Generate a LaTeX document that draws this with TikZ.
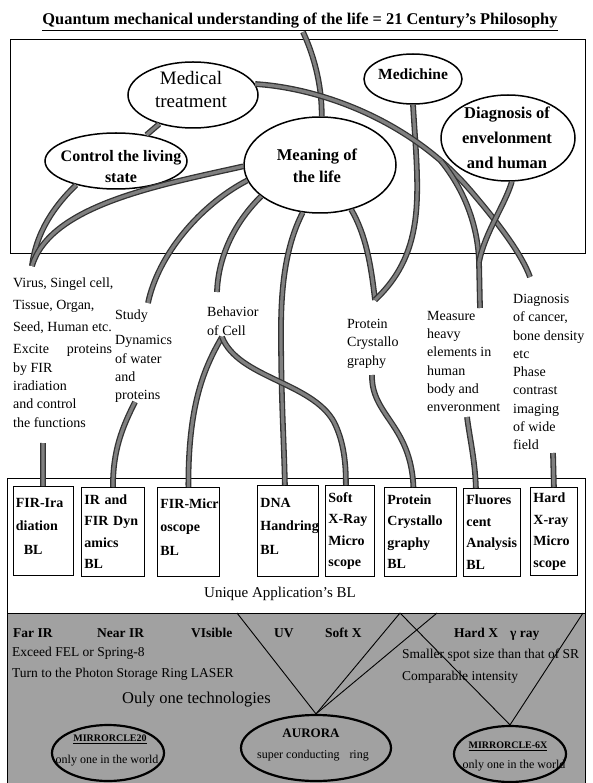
\documentclass[tikz,border=0pt]{standalone}
\usepackage{fontspec}
\setmainfont{Liberation Serif}
\usepackage{graphicx}
\usetikzlibrary{shapes.geometric}
\begin{document}
\begin{tikzpicture}[x=1pt,y=-1pt,
  pipe/.style={draw=black!80, line width=1.3pt, double=black!50, double distance=3.2pt},
  oval/.style={ellipse, draw, line width=1.5pt, inner sep=0pt},
  boval/.style={ellipse, draw, line width=2.2pt, inner sep=0pt},
  etext/.style={font=\bfseries\fontsize{16}{21}\selectfont, align=center, inner sep=0pt},
  mtext/.style={font=\fontsize{14}{18.3}\selectfont, align=left, anchor=north west, inner sep=0pt},
  blbox/.style={draw, line width=0.8pt, anchor=north west, align=left, inner xsep=3pt, inner ysep=0pt, font=\bfseries\fontsize{14}{21.5}\selectfont},
  blboxw/.style={blbox, font=\bfseries\fontsize{14}{23.5}\selectfont, text height=0pt},
  frame/.style={draw, line width=0.8pt},
  band/.style={font=\fontsize{13.5}{16}\selectfont, anchor=base west, inner sep=0pt},
  bandb/.style={band, font=\bfseries\fontsize{13.5}{16}\selectfont},
  thinline/.style={draw, line width=0.9pt},
  ptext/.style={inner sep=0pt}
]
\useasboundingbox (0,0) rectangle (592,783);

% frames and shaded band
\fill[black!37] (7,613) rectangle (585,783);
\draw[frame] (10,39) rectangle (585,253);
\draw[frame] (7,478) rectangle (585,783);
\draw[frame] (7,613) -- (585,613);

% title
\node[ptext] (title) at (300,22) {\resizebox{515pt}{!}{\bfseries\fontsize{14}{16}\selectfont\underline{Quantum mechanical understanding of the life = 21 Century's Philosophy}}};
\coordinate (tl) at (303,32);

% top ellipses
\node[oval, minimum width=130, minimum height=66] (med) at (193,95) {};
\node[ptext, align=center, font=\fontsize{19}{23}\selectfont] (medt) at (191,90) {Medical\\treatment};
\node[oval, minimum width=98, minimum height=50] (medi) at (413,79) {};
\node[etext, font=\bfseries\fontsize{15.5}{20}\selectfont] (medit) at (413,74) {Medichine};
\node[oval, minimum width=134, minimum height=86] (diag) at (508,138) {};
\node[etext, font=\bfseries\fontsize{16.5}{25}\selectfont] (diagt) at (507,138) {Diagnosis of\\envelonment\\and human};
\node[oval, minimum width=142, minimum height=56] (ctrl) at (116,161) {};
\node[etext] (ctrlt) at (121,167) {Control the living\\state};
\node[oval, minimum width=152, minimum height=96] (mean) at (320,165) {};
\node[etext, font=\bfseries\fontsize{16.5}{22}\selectfont] (meant) at (317,166) {Meaning of\\the life};

% middle texts
\node[mtext] (virt) at (13,278) {Virus, Singel cell,\\[3.7pt]Tissue, Organ,\\[3.7pt]Seed, Human etc.\\[3.7pt]Excite\hspace{18pt}proteins\\by FIR\\iradiation\\and control\\the functions};
\node[mtext] (stut) at (115,310) {Study\\[6.7pt]Dynamics\\of water\\and\\proteins};
\node[mtext] (beht) at (207,307) {Behavior\\of Cell};
\node[mtext] (prot) at (347,319) {Protein\\Crystallo\\graphy};
\node[mtext] (meat) at (427,311) {Measure\\heavy\\elements in\\human\\body and\\enveronment};
\node[mtext] (dgt) at (513,294) {Diagnosis\\of cancer,\\bone density\\etc\\Phase\\contrast\\imaging\\of wide\\field};

% beamline boxes
\node[blboxw, text width=54pt, minimum height=89pt] (b1) at (12.5,486) {FIR-Ira\\diation\\\hspace*{8pt}BL};
\node[blbox, text width=57pt, minimum height=89pt] (b2) at (81,487) {IR and\\FIR Dyn\\amics\\BL};
\node[blboxw, text width=56pt, minimum height=89pt] (b3) at (157,487) {\mbox{FIR-Micr}\\oscope\\BL};
\node[blboxw, text width=55pt, minimum height=91pt] (b4) at (257,485) {DNA\\\mbox{Handring}\\BL};
\node[blbox, text width=43pt, minimum height=91pt] (b5) at (325,485) {Soft\\X-Ray\\Micro\\scope};
\node[blbox, text width=66pt, minimum height=89pt] (b6) at (384,487) {Protein\\Crystallo\\graphy\\BL};
\node[blbox, text width=51pt, minimum height=88pt] (b7) at (463,488) {Fluores\\cent\\Analysis\\BL};
\node[blbox, text width=41pt, minimum height=88pt] (b8) at (530,487) {Hard\\X-ray\\Micro\\scope};
\node[ptext, font=\fontsize{15}{18}\selectfont] (uniq) at (280,594) {Unique Application's BL};

% free ends
\coordinate (vir) at (32,266);
\coordinate (stu) at (148,303);
\coordinate (bht) at (217,292);
\coordinate (vpt) at (375,300);
\coordinate (mjoin) at (479,262);
\coordinate (mea) at (480,308);
\coordinate (dgc) at (530,277);
\coordinate (mx) at (470,190);
\coordinate (brs) at (441,161);
\coordinate (virs) at (43,443);
\coordinate (irs) at (135,402);
\coordinate (beh) at (222,337);
\coordinate (prs) at (372,375);
\coordinate (mss) at (467,417);
\coordinate (hxs) at (553,453);

% upper connectors
\draw[pipe] (tl) .. controls (316,60) and (322,90) .. (mean.88);
\draw[pipe] (med) -- (ctrl);
\draw[pipe] (ctrl.211) .. controls (55,205) and (36,232) .. (vir);
\draw[pipe] (mean.181) .. controls (160,185) and (50,205) .. (vir);
\draw[pipe] (mean.192) .. controls (200,205) and (158,255) .. (stu);
\draw[pipe] (mean.208) .. controls (232,225) and (218,260) .. (bht);
\draw[pipe] (mean.250) .. controls (286,245) and (281,285) .. (281,330) .. controls (281,400) and (284,440) .. ([xshift=-3pt]b4.north);
\draw[pipe] (mean.305) .. controls (366,235) and (371,265) .. (vpt);
\draw[pipe] (medi.south) .. controls (418,190) and (428,250) .. (vpt);
\draw[pipe] (med.10) .. controls (320,88) and (410,120) .. (mx) .. controls (500,225) and (522,255) .. (dgc);
\draw[pipe] (brs) .. controls (466,192) and (478,228) .. (mjoin) -- (mea);
\draw[pipe] (diag.275) .. controls (505,205) and (485,232) .. (mjoin);

% lower connectors
\draw[pipe] (virs) -- (b1.north);
\draw[pipe] (irs) .. controls (122,428) and (113,450) .. (b2.north);
\draw[pipe] (beh) .. controls (204,368) and (188,405) .. (b3.north);
\draw[pipe] (beh) .. controls (238,378) and (312,382) .. (334,422) .. controls (343,440) and (346,460) .. ([xshift=-4pt]b5.north);
\draw[pipe] (prs) .. controls (371,415) and (411,425) .. ([xshift=-7pt]b6.north);
\draw[pipe] (mss) .. controls (470,440) and (475,460) .. ([xshift=-16pt]b7.north);
\draw[pipe] (hxs) -- (b8.north);

% light source band
\node[bandb] (farir) at (13,637) {Far IR};
\node[bandb] (nearir) at (97,637) {Near IR};
\node[bandb] (vis) at (191,637) {VIsible};
\node[bandb] (uv) at (274,637) {UV};
\node[bandb] (softx) at (325,637) {Soft X};
\node[bandb] (hardx) at (454,637) {Hard X};
\node[bandb] (gam) at (510,637) {γ ray};
\node[band] (exc) at (12,656) {Exceed FEL or Spring-8};
\node[band] (turn) at (12,677) {Turn to the Photon Storage Ring LASER};
\node[band] (small) at (402,658) {Smaller spot size than that of SR};
\node[band] (comp) at (402,680) {Comparable intensity};
\node[band, font=\fontsize{16.5}{19}\selectfont] (ouly) at (122,703.5) {Ouly one technologies};

\node[boval, minimum width=112, minimum height=56] (m20) at (108,753) {};
\node[ptext, font=\bfseries\fontsize{10}{12}\selectfont] (m20a) at (110,739) {\underline{MIRRORCLE20}};
\node[ptext, font=\fontsize{12}{14}\selectfont] (m20b) at (107,761) {only one in the world};
\node[boval, minimum width=150, minimum height=66] (aur) at (316,748) {};
\node[ptext, font=\bfseries\fontsize{13}{15}\selectfont] (aura) at (311,733) {AURORA};
\node[ptext, font=\fontsize{12}{14}\selectfont] (aurb) at (313,756) {super conducting\hspace{10pt}ring};
\node[boval, minimum width=112, minimum height=56] (m6) at (510,754) {};
\node[ptext, font=\bfseries\fontsize{10}{12}\selectfont] (m6a) at (508,746) {\underline{MIRRORCLE-6X}};
\node[ptext, font=\fontsize{12}{14}\selectfont] (m6b) at (514,766) {only one in the world};

\coordinate (t1) at (237,613);
\coordinate (t2) at (400,613);
\coordinate (t3) at (437,613);
\coordinate (t4) at (583,613);
\draw[thinline] (t1) -- (aur.north);
\draw[thinline] (t2) -- (aur.north);
\draw[thinline] (t2) -- (m6.north);
\draw[thinline] (t3) -- (aur.north);
\draw[thinline] (t4) -- (m6.north);
\end{tikzpicture}
\end{document}
